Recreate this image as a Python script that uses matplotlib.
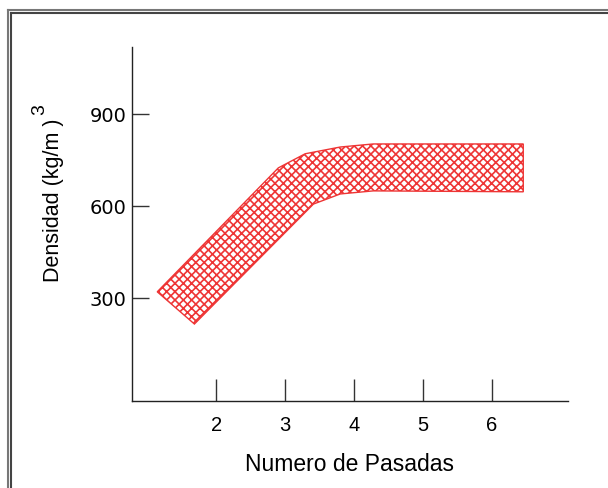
import matplotlib
matplotlib.use("Agg")
import matplotlib.pyplot as plt
from matplotlib.patches import Polygon
from matplotlib.lines import Line2D

plt.rcParams['hatch.linewidth'] = 1.2
plt.rcParams['font.family'] = ['Liberation Sans', 'DejaVu Sans']

# densidad vs numero de pasadas: upper and lower limits of the band
upper_x = [1.14, 2.90, 3.29, 3.80, 4.28, 6.46]
upper_y = [320, 724, 770, 792, 802, 802]
lower_x = [1.68, 3.41, 3.80, 4.28, 6.46]
lower_y = [215, 606, 639, 649, 646]

xticks = [2, 3, 4, 5, 6]
yticks = [300, 600, 900]

red = '#ee3535'

fig = plt.figure(figsize=(6.08, 4.89), dpi=100)
ax = fig.add_axes([0.2171, 0.1779, 0.7171, 0.7239])

verts = list(zip(upper_x, upper_y)) + list(zip(lower_x, lower_y))[::-1]
band = Polygon(verts, closed=True, facecolor='white', edgecolor=red,
               hatch='xxxx', linewidth=1.0)
ax.add_patch(band)

ax.set_xlim(0.773, 7.11)
ax.set_ylim(-36, 1118)
ax.set_xticks(xticks)
ax.set_yticks(yticks)
for s in ('top', 'right'):
    ax.spines[s].set_visible(False)
for s in ('left', 'bottom'):
    ax.spines[s].set_color('#222222')
    ax.spines[s].set_linewidth(1.0)

ax.tick_params(axis='x', direction='in', length=16, width=1.0,
               color='#333333', pad=10)
ax.tick_params(axis='y', direction='in', length=12.5, width=1.0,
               color='#333333', pad=4)
for lab in ax.get_xticklabels():
    lab.set_fontsize(14.5)
for lab in ax.get_yticklabels():
    lab.set_fontfamily('DejaVu Sans')
    lab.set_fontsize(14)

ax.set_xlabel('Numero de Pasadas', fontsize=16.5, labelpad=13)
ax.set_ylabel('Densidad (kg/m )', fontsize=15.5, labelpad=8)
ax.yaxis.set_label_coords(-0.155, 0.57)
fig.text(40 / 608, 1 - 110 / 489, '3', rotation=90, fontsize=14,
         ha='center', va='center')

# double frame around the figure
W, H = 608, 489
frame = [
    ([7.5, 7.5], [H, 10.5], '#777777', 1.5),
    ([7.5, W], [10.5, 10.5], '#777777', 1.5),
    ([11, 11], [H, 14], '#444444', 1.5),
    ([11, W], [14, 14], '#444444', 1.5),
]
for xs, ys, c, lw in frame:
    fig.add_artist(Line2D([x / W for x in xs], [1 - y / H for y in ys],
                          color=c, linewidth=lw, transform=fig.transFigure))

fig.savefig('out.png', dpi=100, facecolor='white')
